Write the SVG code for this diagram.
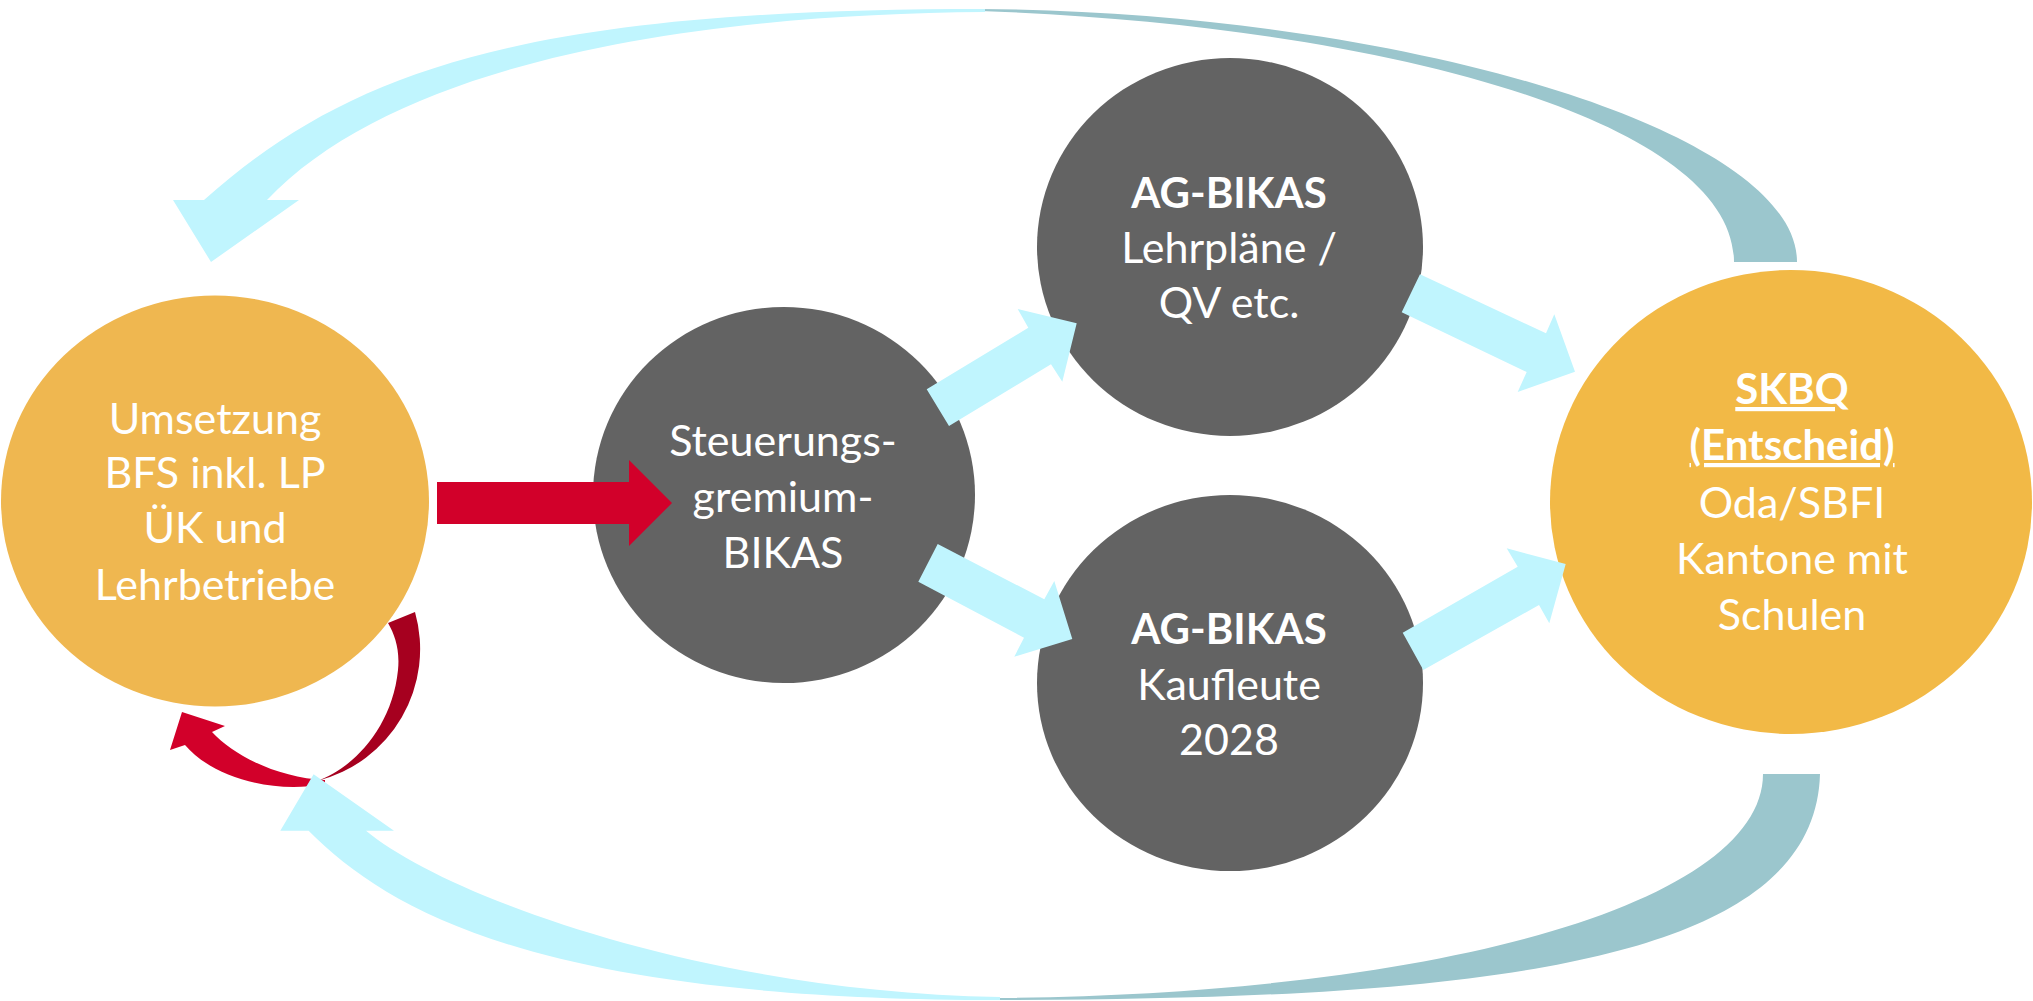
<svg xmlns="http://www.w3.org/2000/svg" width="2033" height="1001" viewBox="0 0 2033 1001">
<style>
.t{font-family:Lato,"Open Sans","Liberation Sans",sans-serif;font-size:43px;fill:#ffffff;text-anchor:middle}
.b{font-weight:bold;font-size:42px}
.u{text-decoration:underline}
.gray{fill:#636363}
.cyan{fill:#C0F5FE}
.teal{fill:#9BC6CD}
</style>
<rect width="2033" height="1001" fill="#ffffff"/>
<g id="node-umsetzung">
<ellipse cx="215" cy="501" rx="214" ry="205.5" fill="#EFB750"/>
<text class="t"><tspan x="215" y="434">Umsetzung</tspan><tspan x="215" y="488">BFS inkl. LP</tspan><tspan x="215" y="543">ÜK und</tspan><tspan x="215" y="600">Lehrbetriebe</tspan></text>
</g>
<g id="node-steuerung">
<ellipse class="gray" cx="784" cy="495" rx="191" ry="188"/>
<text class="t"><tspan x="783" y="456">Steuerungs-</tspan><tspan x="783" y="512">gremium-</tspan><tspan x="783" y="568">BIKAS</tspan></text>
</g>
<g id="node-ag-lehrplaene">
<ellipse class="gray" cx="1230" cy="247" rx="193" ry="189"/>
<text class="t"><tspan class="b" x="1229" y="208">AG-BIKAS</tspan><tspan x="1229" y="263">Lehrpläne /</tspan><tspan x="1229" y="318">QV etc.</tspan></text>
</g>
<g id="node-ag-kaufleute">
<ellipse class="gray" cx="1230" cy="683" rx="193" ry="188"/>
<text class="t"><tspan class="b" x="1229" y="644">AG-BIKAS</tspan><tspan x="1229" y="700">Kaufleute</tspan><tspan x="1229" y="755">2028</tspan></text>
</g>
<g id="node-skbq">
<ellipse cx="1791" cy="502" rx="241" ry="232" fill="#F2B946"/>
<text class="t"><tspan class="b u" x="1792" y="404">SKBQ</tspan><tspan class="b u" x="1792" y="460">(Entscheid)</tspan><tspan x="1792" y="518">Oda/SBFI</tspan><tspan x="1792" y="574">Kantone mit</tspan><tspan x="1792" y="630">Schulen</tspan></text>
</g>
<g id="connectors">
<polygon fill="#D2002A" points="437,482 629,482 629,460 672,503 629,546 629,524 437,524"/>
<path fill="#D2002A" d="M185,745 C210,775 270,795 325,784 L325,780 C280,778 235,757 212,732 L225,726 L182,712 L170,750 Z"/>
<path fill="#A6001F" d="M388,623 L415,612 A136,136 0 0 1 317,781 C350,770 392,730 398,670 C400,650 395,635 388,623 Z"/>
<path class="teal" d="M1734,262 L1797,262 C1797,130 1400,12 980,9 L980,11 C1380,25 1734,120 1734,262 Z"/>
<path class="cyan" d="M985,9 C535,9 354,66 204,200 L173,200 L211,262 L299,200 L267,200 C400,60 700,14 985,12 Z"/>
<path class="teal" d="M1763,774 L1820,774 C1815,960 1500,1000 990,1000 L990,998 C1450,995 1763,900 1763,774 Z"/>
<path class="cyan" d="M1000,1000 C550,1000 393,915.6 308.6,830.7 L280.3,830.7 L313.6,774.3 L394,830.7 L366,830.7 C443,894.7 700,992 1000,997 Z"/>
<polygon class="cyan" points="926.7,389.3 1028.3,327.7 1017.7,309 1076.7,323.3 1062.3,381.7 1051,364.3 949,426"/>
<polygon class="cyan" points="937.7,544 1044.3,599.3 1054.3,581 1072.3,639 1014.3,656.7 1024,637.7 918.3,581.7"/>
<polygon class="cyan" points="1420,274.3 1546,333.3 1554.3,314.3 1575,371.7 1517.7,392 1526.7,372 1401.7,312.3"/>
<polygon class="cyan" points="1402.7,632.7 1517.7,566.7 1506.7,548.3 1565.7,564 1549.3,623.3 1539,605 1423.3,670"/>
</g>
</svg>
